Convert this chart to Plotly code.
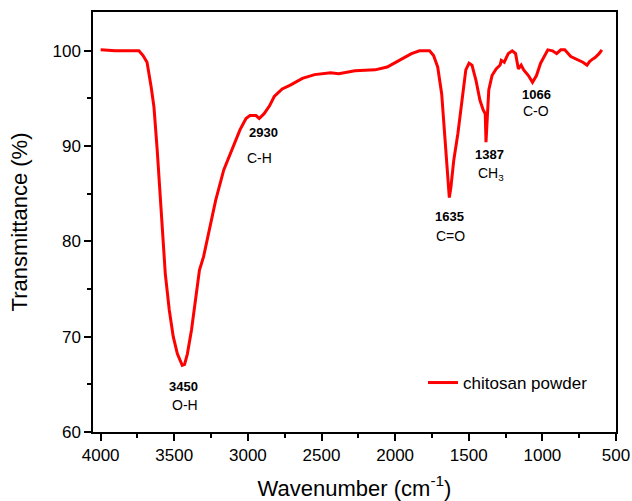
import plotly.graph_objects as go

# FTIR spectrum of chitosan powder
wavenumber = [4000, 3900, 3800, 3740, 3712, 3685, 3657, 3638, 3616, 3589, 3561, 3534,
              3507, 3479, 3446, 3430, 3411, 3383, 3356, 3329, 3301, 3260, 3219, 3164,
              3109, 3054, 3013, 2986, 2945, 2923, 2890, 2854, 2821, 2767, 2712, 2630,
              2547, 2438, 2383, 2273, 2136, 2054, 1972, 1889, 1835, 1766, 1739, 1711,
              1684, 1665, 1648, 1632, 1621, 1602, 1574, 1547, 1520, 1498, 1478, 1451,
              1424, 1402, 1388, 1383, 1375, 1364, 1342, 1314, 1287, 1279, 1259, 1232,
              1205, 1182, 1163, 1144, 1127, 1095, 1067, 1040, 1012, 985, 963, 931,
              903, 875, 848, 807, 766, 725, 697, 678, 661, 642, 615, 596]
transmittance = [100.1, 100.0, 100.0, 100.0, 99.5, 98.8, 96.2, 94.1, 89.6, 82.6, 76.6, 72.8,
                 70.0, 68.2, 67.0, 67.1, 68.2, 70.7, 73.8, 77.0, 78.4, 81.2, 84.3, 87.5,
                 89.6, 91.7, 92.9, 93.2, 93.2, 92.9, 93.4, 94.2, 95.2, 96.0, 96.4, 97.1,
                 97.5, 97.7, 97.6, 97.9, 98.0, 98.3, 99.0, 99.7, 100.0, 100.0, 99.5, 98.3,
                 95.5, 91.3, 87.8, 84.6, 85.7, 88.5, 91.3, 94.8, 98.0, 98.7, 98.5, 96.9,
                 94.8, 93.8, 93.4, 90.4, 93.4, 95.9, 97.4, 98.1, 98.5, 99.0, 98.8, 99.7,
                 100.0, 99.7, 98.1, 98.5, 98.0, 97.4, 96.7, 97.4, 98.7, 99.5, 100.1, 100.0,
                 99.7, 100.1, 100.1, 99.4, 99.1, 98.8, 98.5, 98.9, 99.1, 99.3, 99.7, 100.1]

peak_labels = ["3450", "2930", "1635", "1387", "1066"]
peak_x = [3440, 2895, 1629, 1360, 1040]
peak_y = [64.8, 91.4, 82.6, 89.15, 95.4]
group_labels = ["O-H", "C-H", "C=O", "CH<sub>3</sub>", "C-O"]
group_x = [3430, 2920, 1624, 1350, 1040]
group_y = [62.8, 88.8, 80.6, 87.1, 93.7]

FONT = "Arial, Liberation Sans, sans-serif"

fig = go.Figure()
fig.add_trace(go.Scatter(x=wavenumber, y=transmittance, mode="lines",
                         name="chitosan powder",
                         line=dict(color="#FF0000", width=3)))

for t, x, y in zip(peak_labels, peak_x, peak_y):
    fig.add_annotation(x=x, y=y, text="<b>" + t + "</b>", showarrow=False,
                       font=dict(family=FONT, size=13, color="black"))
for t, x, y in zip(group_labels, group_x, group_y):
    fig.add_annotation(x=x, y=y, text=t, showarrow=False,
                       font=dict(family=FONT, size=14, color="black"))

axis_common = dict(showline=True, linecolor="black", linewidth=1.5, mirror=True,
                   ticks="outside", ticklen=7, tickwidth=1.5, tickcolor="black",
                   showgrid=False, zeroline=False, automargin=False,
                   tickfont=dict(family=FONT, size=17, color="black"))

fig.update_layout(
    width=632, height=501, autosize=False,
    margin=dict(l=93, r=16, t=12, b=69),
    paper_bgcolor="white", plot_bgcolor="white",
    font=dict(family=FONT, color="black"),
    xaxis=dict(range=[4052, 500], tickvals=[4000, 3500, 3000, 2500, 2000, 1500, 1000, 500],
               minor=dict(ticks="outside", ticklen=4, tickwidth=1.5, tickcolor="black", dtick=250),
               title=dict(text="Wavenumber (cm<sup>-1</sup>)", font=dict(family=FONT, size=22),
                          standoff=16),
               **axis_common),
    yaxis=dict(range=[60, 104.07], tickvals=[60, 70, 80, 90, 100],
               minor=dict(ticks="outside", ticklen=4, tickwidth=1.5, tickcolor="black", dtick=5),
               title=dict(text="Transmittance (%)", font=dict(family=FONT, size=22),
                          standoff=19),
               **axis_common),
    showlegend=True,
    legend=dict(x=0.631, y=0.1167, xanchor="left", yanchor="middle",
                bgcolor="rgba(0,0,0,0)", font=dict(family=FONT, size=17)),
)

fig.write_html("out.html", config={"responsive": False})
